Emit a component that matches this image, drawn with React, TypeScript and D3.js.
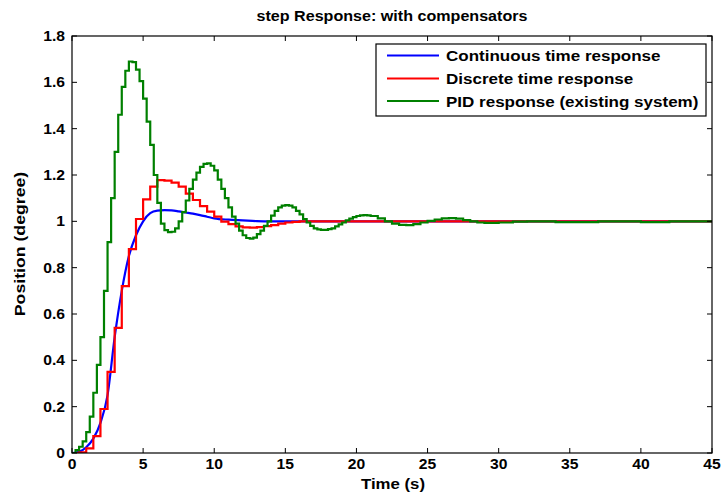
import React from "react";
import * as d3 from "d3";

const W = 722;
const H = 496;
const M = { left: 72, right: 712, top: 36, bottom: 453 };

const xTicks = [0, 5, 10, 15, 20, 25, 30, 35, 40, 45];
const yTicks = [0, 0.2, 0.4, 0.6, 0.8, 1, 1.2, 1.4, 1.6, 1.8];
const yTickLabels = ["0", "0.2", "0.4", "0.6", "0.8", "1", "1.2", "1.4", "1.6", "1.8"];

const seriesNames = [
  "Continuous time response",
  "Discrete time response",
  "PID response (existing system)",
];
const seriesColors = ["#0000ff", "#ff0000", "#008000"];

// Continuous time response
const contT = [0, 0.5, 1, 1.5, 2, 2.5, 3, 3.5, 4, 4.5, 5, 5.5, 6, 6.5, 7, 7.5, 8, 8.5, 9, 9.5, 10, 11, 12, 13, 14, 16, 20, 25, 30, 35, 40, 45];
const contY = [0, 0.005, 0.025, 0.062, 0.13, 0.25, 0.5, 0.7, 0.85, 0.94, 1.0, 1.035, 1.046, 1.048, 1.047, 1.043, 1.038, 1.033, 1.027, 1.02, 1.013, 1.007, 1.004, 1.001, 1.0, 1.0, 1.0, 1.0, 1.0, 1.0, 1.0, 1.0];

// Discrete time response (zero-order hold, T = 0.5 s)
const discT = [0, 0.5, 1, 1.5, 2, 2.5, 3, 3.5, 4, 4.5, 5, 5.5, 6, 6.5, 7, 7.5, 8, 8.5, 9, 9.5, 10, 10.5, 11, 11.5, 12, 12.5, 13, 13.5, 14, 14.5, 15, 15.5, 16, 45];
const discY = [0, 0.003, 0.02, 0.073, 0.19, 0.35, 0.54, 0.72, 0.88, 1.01, 1.095, 1.15, 1.178, 1.176, 1.167, 1.15, 1.12, 1.092, 1.066, 1.042, 1.02, 0.999, 0.988, 0.978, 0.974, 0.973, 0.975, 0.979, 0.984, 0.99, 0.995, 0.998, 1.0, 1.0];

// PID response (existing system)
const pidT = [0, 0.25, 0.5, 0.75, 1, 1.25, 1.5, 1.75, 2, 2.25, 2.5, 2.75, 3, 3.25, 3.5, 3.75, 4, 4.25, 4.5, 4.75, 5, 5.25, 5.5, 5.75, 6, 6.25, 6.5, 6.75, 7, 7.25, 7.5, 7.75, 8, 8.25, 8.5, 8.75, 9, 9.25, 9.5, 9.75, 10, 10.25, 10.5, 10.75, 11, 11.25, 11.5, 11.75, 12, 12.25, 12.5, 12.75, 13, 13.25, 13.5, 13.75, 14, 14.25, 14.5, 14.75, 15, 15.25, 15.5, 15.75, 16, 16.25, 16.5, 16.75, 17, 17.25, 17.5, 17.75, 18, 18.25, 18.5, 18.75, 19, 19.25, 19.5, 19.75, 20, 20.25, 20.5, 20.75, 21, 21.5, 22, 22.5, 23, 23.5, 24, 24.5, 25, 25.5, 26, 26.5, 27, 27.5, 28, 28.5, 29, 29.5, 30, 31, 32, 33, 34, 35, 36, 37, 38, 39, 40, 41, 42, 45];
const pidY = [0, 0.012, 0.027, 0.05, 0.09, 0.157, 0.26, 0.38, 0.5, 0.7, 0.91, 1.1, 1.3, 1.46, 1.58, 1.65, 1.69, 1.687, 1.655, 1.605, 1.53, 1.43, 1.33, 1.2, 1.08, 0.99, 0.962, 0.953, 0.955, 0.97, 1.0, 1.04, 1.09, 1.14, 1.18, 1.21, 1.235, 1.248, 1.25, 1.24, 1.22, 1.18, 1.14, 1.1, 1.06, 1.02, 0.99, 0.96, 0.94, 0.928, 0.925, 0.93, 0.945, 0.96, 0.98, 1.0, 1.025, 1.045, 1.06, 1.068, 1.07, 1.068, 1.06, 1.045, 1.03, 1.01, 0.995, 0.98, 0.97, 0.965, 0.963, 0.963, 0.966, 0.97, 0.978, 0.987, 0.995, 1.004, 1.012, 1.018, 1.023, 1.026, 1.027, 1.026, 1.023, 1.013, 1.0, 0.99, 0.985, 0.984, 0.988, 0.995, 1.002, 1.008, 1.013, 1.014, 1.012, 1.005, 1.0, 0.995, 0.993, 0.993, 0.995, 0.999, 1.0, 1.0, 0.997, 0.997, 0.997, 1.0, 1.0, 1.0, 0.997, 0.997, 1.0, 1.0];

const FONT = "'Liberation Sans', Arial, Helvetica, sans-serif";
const SX = 1.12;

function SText({ x, y, anchor = "start", size = 14, rotate = 0, sx = SX, children }: any) {
  return (
    <text
      transform={`translate(${x},${y}) rotate(${rotate}) scale(${sx},1)`}
      textAnchor={anchor}
      fontFamily={FONT}
      fontWeight="bold"
      fontSize={size}
      fill="#000"
    >
      {children}
    </text>
  );
}

export default function App() {
  const x = d3.scaleLinear().domain([0, 45]).range([M.left, M.right]);
  const y = d3.scaleLinear().domain([0, 1.8]).range([M.bottom, M.top]);

  const contLine = d3
    .line<number>()
    .x((_, i) => x(contT[i]))
    .y((d) => y(d))
    .curve(d3.curveMonotoneX)(contY);
  const discLine = d3
    .line<number>()
    .x((_, i) => x(discT[i]))
    .y((d) => y(d))
    .curve(d3.curveStepAfter)(discY);
  const pidLine = d3
    .line<number>()
    .x((_, i) => x(pidT[i]))
    .y((d) => y(d))
    .curve(d3.curveStepAfter)(pidY);

  const paths = [contLine, discLine, pidLine];
  const tl = 5;

  const lgX0 = 376, lgY0 = 44, lgX1 = 706, lgY1 = 116;
  const rowY = [55.5, 78.5, 101];

  return (
    <svg width={W} height={H} style={{ position: "absolute", left: 0, top: 0, background: "#fff" }}>
      <rect x={0} y={0} width={W} height={H} fill="#fff" />
      <defs>
        <clipPath id="plotclip">
          <rect x={M.left} y={M.top - 2} width={M.right - M.left} height={M.bottom - M.top + 2} />
        </clipPath>
      </defs>
      <SText x={392} y={21} anchor="middle" size={14} sx={1.15}>
        step Response: with compensators
      </SText>

      <g clipPath="url(#plotclip)">
        {paths.map((p, i) => (
          <path key={i} d={p || ""} fill="none" stroke={seriesColors[i]} strokeWidth={2.2} />
        ))}
      </g>

      {/* axes box */}
      <rect
        x={M.left}
        y={M.top}
        width={M.right - M.left}
        height={M.bottom - M.top}
        fill="none"
        stroke="#000"
        strokeWidth={1.2}
      />
      {xTicks.map((t) => (
        <g key={"xt" + t}>
          <line x1={x(t)} x2={x(t)} y1={M.bottom} y2={M.bottom - tl} stroke="#000" strokeWidth={1} />
          <line x1={x(t)} x2={x(t)} y1={M.top} y2={M.top + tl} stroke="#000" strokeWidth={1} />
          <SText x={x(t)} y={469} anchor="middle" size={14}>
            {String(t)}
          </SText>
        </g>
      ))}
      {yTicks.map((t, i) => (
        <g key={"yt" + t}>
          <line x1={M.left} x2={M.left + tl} y1={y(t)} y2={y(t)} stroke="#000" strokeWidth={1} />
          <line x1={M.right} x2={M.right - tl} y1={y(t)} y2={y(t)} stroke="#000" strokeWidth={1} />
          <SText x={65} y={y(t) + 5} anchor="end" size={14}>
            {yTickLabels[i]}
          </SText>
        </g>
      ))}

      <SText x={393} y={489} anchor="middle" size={15}>
        Time (s)
      </SText>
      <SText x={25} y={244} anchor="middle" size={15} rotate={-90} sx={1.18}>
        Position (degree)
      </SText>

      {/* legend */}
      <rect x={lgX0} y={lgY0} width={lgX1 - lgX0} height={lgY1 - lgY0} fill="#fff" stroke="#000" strokeWidth={1.2} />
      {seriesNames.map((n, i) => (
        <g key={n}>
          <line x1={387} x2={439} y1={rowY[i]} y2={rowY[i]} stroke={seriesColors[i]} strokeWidth={2.2} />
          <SText x={446} y={rowY[i] + 5.5} size={15.2}>
            {n}
          </SText>
        </g>
      ))}
    </svg>
  );
}
